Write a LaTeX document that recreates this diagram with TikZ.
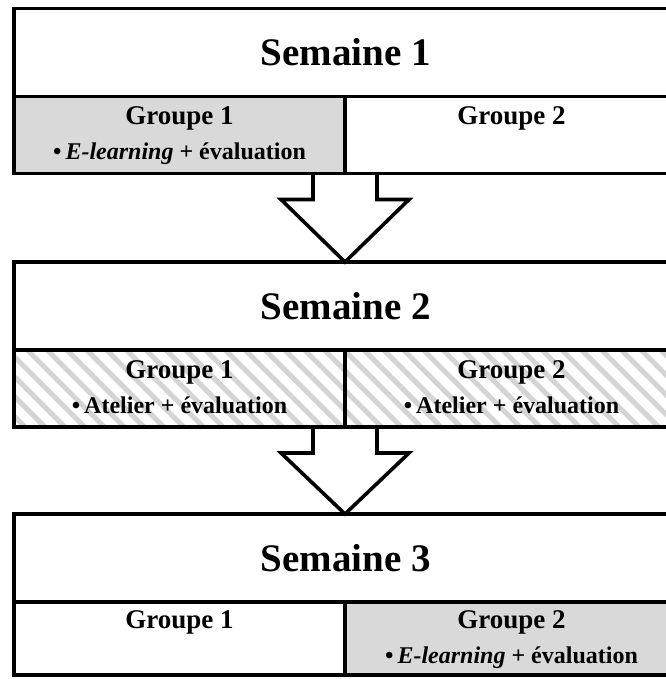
\documentclass[tikz,border=0pt]{standalone}
\usepackage{fontspec}
\setmainfont{Liberation Serif}
\usetikzlibrary{calc,patterns.meta}

\definecolor{cellgray}{HTML}{D9D9D9}
\definecolor{hatchgray}{HTML}{D4D4D4}

\tikzset{
  weekbox/.style={draw, line width=3.6pt, outer sep=0pt, inner sep=0pt,
    minimum width=664pt, minimum height=88pt,
    font=\bfseries\fontsize{39}{40}\selectfont},
  groupbox/.style={draw, line width=3.6pt, outer sep=0pt, inner sep=0pt,
    minimum height=77pt, anchor=north west, align=center,
    font=\bfseries\fontsize{27}{35}\selectfont},
  elearning/.style={fill=cellgray},
  atelier/.style={pattern={Lines[angle=-45,distance=14pt,line width=5pt]},
    pattern color=hatchgray},
  blockarrow/.style={line width=3.6pt},
}
\newcommand{\tache}[1]{{\fontsize{24}{35}\selectfont\textbullet\,#1}}

\begin{document}
\begin{tikzpicture}[x=1pt,y=-1pt]
    \useasboundingbox (0,0) rectangle (665,679);

    % Semaine 1
    \node[weekbox] (s1) at (346,52.5) {Semaine 1};
    \node[groupbox, elearning, minimum width=331pt] (s1g1) at (s1.south west)
        {\strut Groupe 1\\\strut\tache{\textit{E-learning} + évaluation}};
    \node[groupbox, minimum width=333pt] (s1g2) at (s1g1.north east)
        {\strut Groupe 2\\\strut};

    % Semaine 2
    \node[weekbox] (s2) at (346,306) {Semaine 2};
    \node[groupbox, atelier, minimum width=331pt] (s2g1) at (s2.south west)
        {\strut Groupe 1\\\strut\tache{Atelier + évaluation}};
    \node[groupbox, atelier, minimum width=333pt] (s2g2) at (s2g1.north east)
        {\strut Groupe 2\\\strut\tache{Atelier + évaluation}};

    % Semaine 3
    \node[weekbox] (s3) at (346,558) {Semaine 3};
    \node[groupbox, minimum width=331pt, minimum height=73pt] (s3g1) at (s3.south west)
        {\strut Groupe 1\\\strut};
    \node[groupbox, elearning, minimum width=333pt, minimum height=73pt] (s3g2) at (s3g1.north east)
        {\strut Groupe 2\\\strut\tache{\textit{E-learning} + évaluation}};

    % flèches entre les semaines
    \foreach \from/\to in {s1g1/s2, s2g1/s3}
        \draw[blockarrow] ($(\from.south east)+(-32,0)$) -- ++(0,26) coordinate (h)
            -- ++(-32,0) -- (\from.south east |- \to.north)
            -- ($(h)+(96,0)$) -- ++(-32,0) -- ++(0,-26);
\end{tikzpicture}
\end{document}
